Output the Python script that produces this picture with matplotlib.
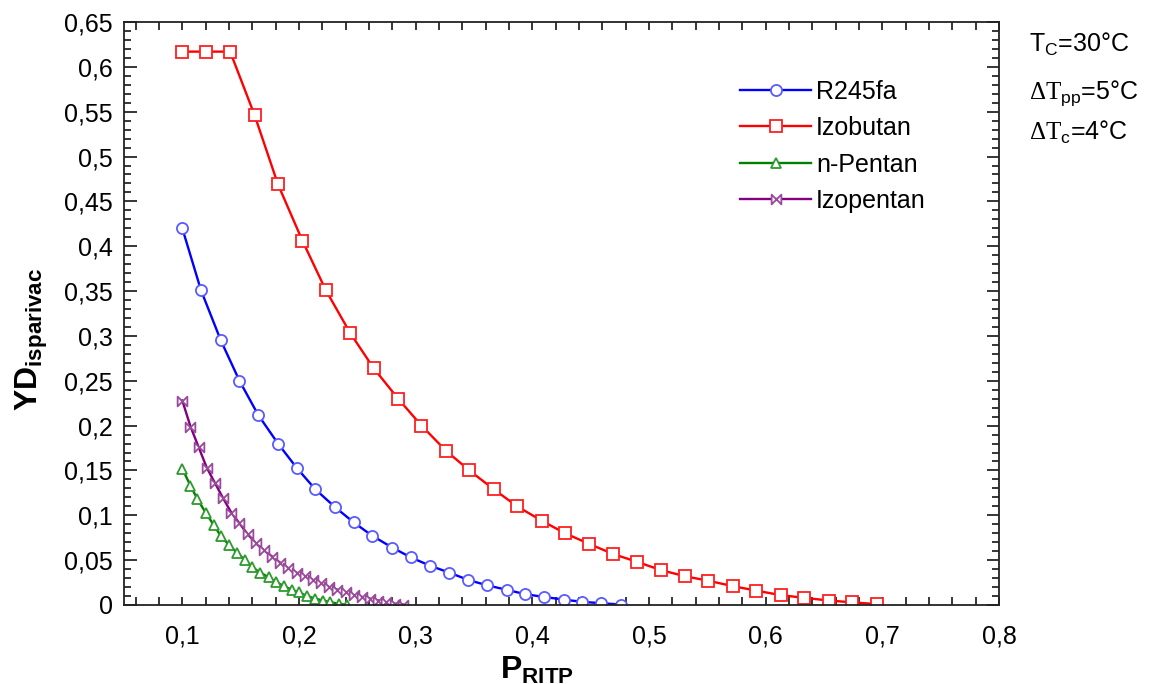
import matplotlib
matplotlib.use('Agg')
import matplotlib.pyplot as plt
from matplotlib.path import Path
from matplotlib.ticker import MultipleLocator, FuncFormatter

# data
r245_x = [0.1, 0.116, 0.133, 0.149, 0.165, 0.182, 0.198, 0.214, 0.231, 0.247, 0.263, 0.28,
          0.296, 0.312, 0.329, 0.345, 0.361, 0.378, 0.394, 0.41, 0.427, 0.443, 0.459, 0.476]
r245_y = [0.420, 0.351, 0.295, 0.250, 0.212, 0.180, 0.153, 0.129, 0.109, 0.092, 0.077, 0.064,
          0.053, 0.044, 0.036, 0.028, 0.022, 0.017, 0.012, 0.009, 0.006, 0.0035, 0.002, 0.0005]

izobutan_x = [0.1, 0.12, 0.141, 0.162, 0.182, 0.203, 0.223, 0.244, 0.264, 0.285, 0.305, 0.326,
              0.346, 0.367, 0.387, 0.408, 0.428, 0.449, 0.469, 0.49, 0.51, 0.531, 0.551, 0.572,
              0.592, 0.613, 0.633, 0.654, 0.674, 0.695]
izobutan_y = [0.617, 0.617, 0.617, 0.546, 0.469, 0.406, 0.351, 0.303, 0.264, 0.230, 0.200, 0.172,
              0.150, 0.129, 0.110, 0.094, 0.080, 0.068, 0.057, 0.048, 0.039, 0.032, 0.027, 0.021,
              0.016, 0.011, 0.008, 0.005, 0.003, 0.001]

pentan_x = [0.1, 0.107, 0.113, 0.12, 0.127, 0.133, 0.14, 0.147, 0.154, 0.16, 0.167, 0.174,
            0.18, 0.187, 0.194, 0.2, 0.207, 0.214, 0.221, 0.227, 0.234, 0.241]
pentan_y = [0.152, 0.133, 0.118, 0.103, 0.089, 0.077, 0.067, 0.058, 0.050, 0.042, 0.036, 0.031,
            0.026, 0.021, 0.017, 0.014, 0.010, 0.007, 0.005, 0.003, 0.0015, 0.0]

izopentan_x = [0.1, 0.107, 0.114, 0.121, 0.128, 0.135, 0.142, 0.149, 0.156, 0.163, 0.17, 0.177,
               0.184, 0.191, 0.198, 0.205, 0.212, 0.219, 0.226, 0.233, 0.24, 0.247, 0.254, 0.261,
               0.268, 0.275, 0.282, 0.289]
izopentan_y = [0.228, 0.199, 0.176, 0.153, 0.136, 0.119, 0.103, 0.091, 0.079, 0.069, 0.061, 0.054,
               0.047, 0.041, 0.036, 0.032, 0.028, 0.024, 0.020, 0.017, 0.014, 0.011, 0.009, 0.007,
               0.005, 0.003, 0.0015, 0.0005]

plt.rcParams['font.family'] = ['Liberation Sans', 'DejaVu Sans']
plt.rcParams['mathtext.fontset'] = 'custom'
plt.rcParams['mathtext.rm'] = 'Liberation Sans'
plt.rcParams['mathtext.bf'] = 'Liberation Sans:bold'
plt.rcParams['mathtext.sf'] = 'Liberation Serif'

# bow-tie marker for Izopentan
bowtie = Path([(-1, -1), (1, 1), (1, -1), (-1, 1), (-1, -1)],
              [Path.MOVETO, Path.LINETO, Path.LINETO, Path.LINETO, Path.CLOSEPOLY])

fig = plt.figure(figsize=(11.5, 6.84), dpi=100)
ax = fig.add_axes([0.1078, 0.1155, 0.7609, 0.8523])

common = dict(lw=1.7, mfc='white', mew=1.3)
ax.plot(r245_x, r245_y, color='#0000ff', marker='o', ms=8, mec='#5a5aff',
        label='R245fa', **common)
ax.plot(izobutan_x, izobutan_y, color='#ff0000', marker='s', ms=8.5, mec='#ff2020',
        label='Izobutan', **common)
ax.plot(pentan_x, pentan_y, color='#008000', marker='^', ms=7, mec='#2e9a2e',
        label='n-Pentan', **common)
ax.plot(izopentan_x, izopentan_y, color='#800080', marker=bowtie, ms=7, mec='#9a4a9a',
        label='Izopentan', **common)

ax.set_xlim(0.05, 0.8)
ax.set_ylim(0, 0.65)
ax.xaxis.set_major_locator(MultipleLocator(0.1))
ax.xaxis.set_minor_locator(MultipleLocator(0.02))
ax.yaxis.set_major_locator(MultipleLocator(0.05))
ax.yaxis.set_minor_locator(MultipleLocator(0.01))


def comma(v, pos):
    s = f'{v:.2f}'.rstrip('0').rstrip('.')
    return s.replace('.', ',')


ax.xaxis.set_major_formatter(FuncFormatter(comma))
ax.yaxis.set_major_formatter(FuncFormatter(comma))

ax.tick_params(which='both', direction='in', top=True, right=True, labelsize=18, width=1.1)
ax.tick_params(axis='y', which='major', length=9, pad=8)
ax.tick_params(axis='y', which='minor', length=5)
ax.tick_params(axis='x', which='both', length=6)
ax.tick_params(axis='x', pad=14)
for sp in ax.spines.values():
    sp.set_linewidth(1.3)
    sp.set_color('#222222')

ax.set_xlabel(r'$\mathbf{P}_{\mathbf{RITP}}$', fontsize=23)
ax.xaxis.set_label_coords(0.472, -0.085)
ax.set_ylabel(r'$\mathbf{YD}_{\mathbf{isparivac}}$', fontsize=23)
ax.yaxis.set_label_coords(-0.085, 0.455)

ax.legend(loc='upper left', bbox_to_anchor=(0.704, 0.901), frameon=False, fontsize=18,
          handlelength=2.85, handletextpad=0.2, labelspacing=0.5, numpoints=1,
          borderaxespad=0, borderpad=0)

fig.text(0.895, 0.935, r'T$_{\mathrm{C}}$=30°C', fontsize=18, va='center')
fig.text(0.895, 0.864, r'$\mathsf{\Delta T}_{\mathrm{pp}}$=5°C', fontsize=18, va='center')
fig.text(0.895, 0.806, r'$\mathsf{\Delta T}_{\mathrm{c}}$=4°C', fontsize=18, va='center')

fig.savefig('out.png', dpi=100)
